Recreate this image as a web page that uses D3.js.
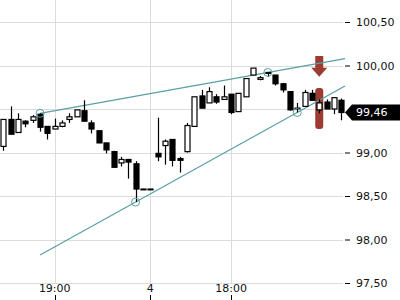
<!DOCTYPE html>
<html>
<head>
<meta charset="utf-8">
<script src="https://cdn.jsdelivr.net/npm/d3@7"></script>
<style>
  body { margin: 0; background: #fff; }
  #chart text { font-family: "DejaVu Sans", sans-serif; font-size: 11px; }
</style>
</head>
<body>
<div id="chart"></div>
<script>
// candle data (one candle per slot)
const opens  = [99.07, 99.38, 99.23, 99.36, 99.37, 99.44, 99.30, 99.27, 99.30, 99.38,
                99.41, 99.48, 99.34, 99.25, 99.11, 99.01, 98.88, 98.92, 98.87, 98.58,
                98.58, 98.99, 99.08, 99.15, 98.93, 99.01, 99.30, 99.65, 99.57, 99.64,
                99.61, 99.67, 99.47, 99.64, 99.89, 99.84, 99.92, 99.89, 99.79, 99.70,
                99.51, 99.53, 99.68, 99.49, 99.58, 99.50, 99.60];
const highs  = [99.38, 99.53, 99.45, 99.37, 99.43, 99.45, 99.30, 99.39, 99.37, 99.45,
                99.49, 99.60, 99.37, 99.25, 99.11, 99.02, 98.95, 98.92, 98.90, 98.58,
                98.58, 99.40, 99.15, 99.15, 98.95, 99.34, 99.64, 99.72, 99.75, 99.67,
                99.77, 99.67, 99.68, 99.85, 99.97, 99.88, 99.92, 99.89, 99.80, 99.70,
                99.57, 99.72, 99.72, 99.61, 99.61, 99.63, 99.62];
const lows   = [99.02, 99.21, 99.23, 99.29, 99.34, 99.24, 99.15, 99.27, 99.29, 99.34,
                99.41, 99.36, 99.22, 99.11, 98.99, 98.83, 98.84, 98.70, 98.43, 98.58,
                98.58, 98.90, 98.86, 98.84, 98.77, 99.00, 99.30, 99.51, 99.57, 99.56,
                99.61, 99.44, 99.47, 99.64, 99.89, 99.83, 99.87, 99.77, 99.69, 99.48,
                99.46, 99.53, 99.60, 99.45, 99.50, 99.44, 99.37];
const closes = [99.38, 99.21, 99.38, 99.33, 99.41, 99.29, 99.22, 99.30, 99.34, 99.41,
                99.49, 99.36, 99.27, 99.11, 99.03, 98.83, 98.92, 98.89, 98.58, 98.58,
                98.58, 98.95, 99.13, 98.91, 98.91, 99.31, 99.64, 99.51, 99.70, 99.58,
                99.64, 99.46, 99.68, 99.85, 99.97, 99.86, 99.91, 99.79, 99.72, 99.49,
                99.51, 99.69, 99.60, 99.57, 99.50, 99.63, 99.46];

const gridValues = [97.5, 98.0, 98.5, 99.0, 99.5, 100.0, 100.5];
// 99,50 sits under the last-price tag, so it gets no label
const yTicks = [97.5, 98.0, 98.5, 99.0, 100.0, 100.5];
const xTickIndex = [7, 20, 31];
const xTickLabels = ['19:00', '4', '18:00'];

// trend lines: two anchor points each (candle index, price), drawn from startIndex onward
const upperAnchors = [[5, 99.45], [36, 99.92]];
const lowerAnchors = [[18, 98.43], [40, 99.46]];
const trendStartIndex = 5;

// signal on one candle
const signalIndex = 43;
const signalBand = [99.27, 99.74];
const signalArrow = [100.11, 99.87];

const lastPrice = 99.46;

const width = 400, height = 300;
const plotRight = 345;

const x = d3.scaleLinear().domain([0, 46]).range([3.3, 341.3]);
const y = d3.scaleLinear().domain([97.5, 100.5]).range([283, 22]);
const fmt = v => d3.format('.2f')(v).replace('.', ',');

const svg = d3.select('#chart').append('svg')
  .attr('width', width)
  .attr('height', height);

// grid
const grid = svg.append('g').attr('stroke', '#dcdcdc').attr('stroke-width', 1);
grid.selectAll('.hg')
  .data(gridValues)
  .enter()
  .append('line')
  .attr('x1', 0).attr('x2', plotRight - 2)
  .attr('y1', d => Math.round(y(d)) + 0.5)
  .attr('y2', d => Math.round(y(d)) + 0.5);
grid.selectAll('.vg')
  .data(xTickIndex)
  .enter()
  .append('line')
  .attr('x1', d => Math.round(x(d)) + 0.5)
  .attr('x2', d => Math.round(x(d)) + 0.5)
  .attr('y1', 0).attr('y2', y(97.5));

// right axis
const rightAxis = d3.axisRight(y)
  .tickValues(yTicks)
  .tickSize(5)
  .tickPadding(6)
  .tickFormat(fmt);
const ya = svg.append('g')
  .attr('transform', `translate(${plotRight},0)`)
  .call(rightAxis);
ya.select('.domain').remove();
ya.selectAll('text').attr('fill', '#111').style('font-family', '"DejaVu Sans", sans-serif').style('font-size', '11px');

// bottom axis (labels above the ticks)
const xa = svg.append('g');
xa.selectAll('.xt')
  .data(xTickIndex)
  .enter()
  .append('line')
  .attr('x1', d => Math.round(x(d)) + 0.5)
  .attr('x2', d => Math.round(x(d)) + 0.5)
  .attr('y1', 295).attr('y2', 300)
  .attr('stroke', '#000');
xa.selectAll('.xl')
  .data(xTickIndex)
  .enter()
  .append('text')
  .attr('x', d => x(d))
  .attr('y', 292)
  .attr('text-anchor', 'middle')
  .attr('fill', '#111')
  .text((d, i) => xTickLabels[i]);

// signal highlight behind the candle
const sx = x(signalIndex);
svg.append('rect')
  .attr('x', sx - 4).attr('width', 8)
  .attr('y', y(signalBand[1])).attr('height', y(signalBand[0]) - y(signalBand[1]))
  .attr('rx', 3)
  .attr('fill', '#9b3b32');
const aTop = y(signalArrow[0]), aTip = y(signalArrow[1]);
const aNeck = aTip - 9;
svg.append('path')
  .attr('d', `M${sx - 4},${aTop} L${sx + 4},${aTop} L${sx + 4},${aNeck} L${sx + 8},${aNeck} L${sx},${aTip} L${sx - 8},${aNeck} L${sx - 4},${aNeck} Z`)
  .attr('fill', '#9b3b32');

// trend lines
const teal = '#5a9fa6';
const extend = (a, i) => {
  const slope = (a[1][1] - a[0][1]) / (a[1][0] - a[0][0]);
  return a[0][1] + slope * (i - a[0][0]);
};
const endIndex = x.invert(plotRight);
[upperAnchors, lowerAnchors].forEach(a => {
  svg.append('line')
    .attr('x1', x(trendStartIndex)).attr('y1', y(extend(a, trendStartIndex)))
    .attr('x2', x(endIndex)).attr('y2', y(extend(a, endIndex)))
    .attr('stroke', teal)
    .attr('stroke-width', 1.2);
});

// candles
const candles = svg.append('g')
  .selectAll('g')
  .data(d3.range(opens.length))
  .enter()
  .append('g');
candles.append('line')
  .attr('x1', i => Math.round(x(i)) + 0.5)
  .attr('x2', i => Math.round(x(i)) + 0.5)
  .attr('y1', i => y(highs[i]))
  .attr('y2', i => y(lows[i]))
  .attr('stroke', '#000')
  .attr('stroke-width', 1.2);
candles.append('rect')
  .attr('x', i => Math.round(x(i)) - 2)
  .attr('width', 5)
  .attr('y', i => y(Math.max(opens[i], closes[i])))
  .attr('height', i => Math.max(0.8, Math.abs(y(opens[i]) - y(closes[i]))))
  .attr('fill', i => closes[i] >= opens[i] ? '#fff' : '#000')
  .attr('stroke', '#000')
  .attr('stroke-width', 1.2);

// anchor circles
svg.append('g')
  .selectAll('circle')
  .data(upperAnchors.concat(lowerAnchors))
  .enter()
  .append('circle')
  .attr('cx', d => x(d[0]))
  .attr('cy', d => y(d[1]))
  .attr('r', 4)
  .attr('fill', 'none')
  .attr('stroke', teal)
  .attr('stroke-width', 1);

// last price tag
const ly = y(lastPrice);
svg.append('path')
  .attr('d', `M${plotRight},${ly} L${plotRight + 7},${ly - 8} L${width},${ly - 8} L${width},${ly + 8} L${plotRight + 7},${ly + 8} Z`)
  .attr('fill', '#000');
svg.append('text')
  .attr('x', 356)
  .attr('y', ly + 4)
  .attr('fill', '#fff')
  .text(fmt(lastPrice));
</script>
</body>
</html>
